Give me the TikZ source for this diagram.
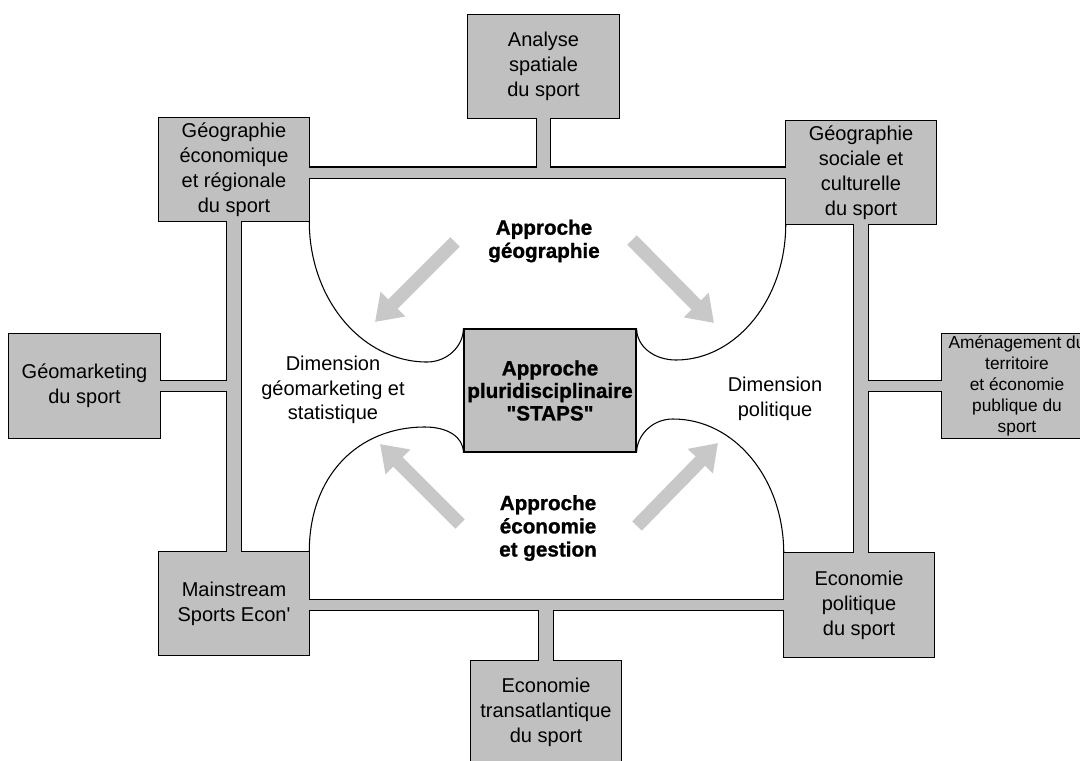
\documentclass[tikz,border=0pt]{standalone}
\usepackage{fontspec}
\setmainfont{Liberation Sans}
\newfontfamily\heavyfont[FakeBold=1.2]{Liberation Sans Bold}
\usetikzlibrary{arrows.meta}
\pgfdeclarelayer{back}
\pgfdeclarelayer{mid}
\pgfsetlayers{back,mid,main}
\definecolor{boxgray}{RGB}{192,192,192}
\definecolor{arrowgray}{RGB}{200,200,200}

\begin{document}
\begin{tikzpicture}[x=0.75pt,y=-0.75pt,
  box/.style={minimum width=112.5pt,minimum height=77.25pt,inner sep=0pt,align=center,
    font=\fontsize{15}{18.75}\selectfont},
  txt/.style={align=center,inner sep=0pt,font=\fontsize{15}{18.4}\selectfont},
  heavy/.style={align=center,inner sep=0pt,font=\heavyfont\fontsize{15.5}{17.4}\selectfont},
  hpipe/.style={line width=9.3pt},
  vpipe/.style={line width=11.8pt},
  hpipefill/.style={boxgray,line width=7.5pt},
  vpipefill/.style={boxgray,line width=10pt},
  curve/.style={line width=0.8pt},
  bigarrow/.style={arrowgray,line width=10pt,-{Triangle[length=19pt,width=25pt]}}]
\useasboundingbox (0,0) rectangle (1080,760);

% boxes
\node[box] (analyse) at (543.5,66.5) {Analyse\\spatiale\\du sport};
\node[box] (geoeco) at (234,169.5) {Géographie\\économique\\et régionale\\du sport};
\node[box] (geosoc) at (861,172.5) {Géographie\\sociale et\\culturelle\\du sport};
\node[box] (geomark) at (84.5,386) {Géomarketing\\du sport};
\node[box,font=\fontsize{13}{15.75}\selectfont] (amenag) at (1017,386)
  {Aménagement du\\territoire\\et économie\\publique du\\sport};
\node[box] (mainstream) at (234,603.5) {Mainstream\\Sports Econ\textquotesingle};
\node[box] (ecopol) at (859,605) {Economie\\politique\\du sport};
\node[box] (ecotrans) at (546,712.5) {Economie\\transatlantique\\du sport};
\node[box,draw,fill=boxgray,line width=0.9pt,minimum width=129pt,minimum height=92.25pt,
  font=\heavyfont\fontsize{15.5}{16.9}\selectfont] (staps) at (550,390.5)
  {Approche\\pluridisciplinaire\\\textquotedbl STAPS\textquotedbl};

% frame, outline under, gray over
\begin{pgfonlayer}{back}
  \foreach \b in {analyse,geoeco,geosoc,geomark,amenag,mainstream,ecopol,ecotrans}
    \draw[line width=1.8pt] (\b.north west) rectangle (\b.south east);
  \draw[hpipe] (geosoc) -- (geosoc -| geoeco);
  \draw[hpipe] (ecopol) -- (ecopol -| mainstream);
  \draw[hpipe] (geomark) -- (geomark -| geoeco);
  \draw[hpipe] (amenag) -- (amenag -| geosoc);
  \draw[vpipe] (analyse) -- (analyse |- geosoc);
  \draw[vpipe] (ecotrans) -- (ecotrans |- ecopol);
  \draw[vpipe] (geoeco) -- (geoeco |- mainstream);
  \draw[vpipe] (geosoc) -- (geosoc |- ecopol);
\end{pgfonlayer}
\begin{pgfonlayer}{mid}
  \foreach \b in {analyse,geoeco,geosoc,geomark,amenag,mainstream,ecopol,ecotrans}
    \fill[boxgray] (\b.north west) rectangle (\b.south east);
  \draw[hpipefill] (geosoc) -- (geosoc -| geoeco);
  \draw[hpipefill] (ecopol) -- (ecopol -| mainstream);
  \draw[hpipefill] (geomark) -- (geomark -| geoeco);
  \draw[hpipefill] (amenag) -- (amenag -| geosoc);
  \draw[vpipefill] (analyse) -- (analyse |- geosoc);
  \draw[vpipefill] (ecotrans) -- (ecotrans |- ecopol);
  \draw[vpipefill] (geoeco) -- (geoeco |- mainstream);
  \draw[vpipefill] (geosoc) -- (geosoc |- ecopol);
\end{pgfonlayer}

% curves round the centre
\coordinate (ulb) at (427,362);
\coordinate (llt) at (425,427);
\coordinate (urb) at (676,360);
\coordinate (lrt) at (673,419);
\draw[curve] (geoeco.south east) .. controls +(0,78) and +(-65,0) .. (ulb)
  .. controls +(20,0) and +(0,18) .. (staps.north west);
\draw[curve] (mainstream.north east) .. controls +(0,-75) and +(-68,0) .. (llt)
  .. controls +(22,0) and +(0,-16) .. (staps.south west);
\draw[curve] (staps.north east) .. controls +(0,18) and +(-22,0) .. (urb)
  .. controls +(60,0) and +(0,75) .. (geosoc.south west);
\draw[curve] (staps.south east) .. controls +(0,-16) and +(-22,0) .. (lrt)
  .. controls +(62,0) and +(0,-74) .. (ecopol.north west);

% labels
\node[heavy] (geotxt) at (544,241) {Approche\\géographie};
\node[heavy] (ecotxt) at (548,528) {Approche\\économie\\et gestion};
\node[txt] (dimgeo) at (333,390) {Dimension\\géomarketing et\\statistique};
\node[txt] (dimpol) at (775,399) {Dimension\\politique};

% arrows
\foreach \xa/\ya/\xb/\yb in {455/242/375/322, 632/240/714/323, 460/524/380/444, 637/526/718/443}
  \draw[bigarrow] (\xa,\ya) -- (\xb,\yb);
\end{tikzpicture}
\end{document}
